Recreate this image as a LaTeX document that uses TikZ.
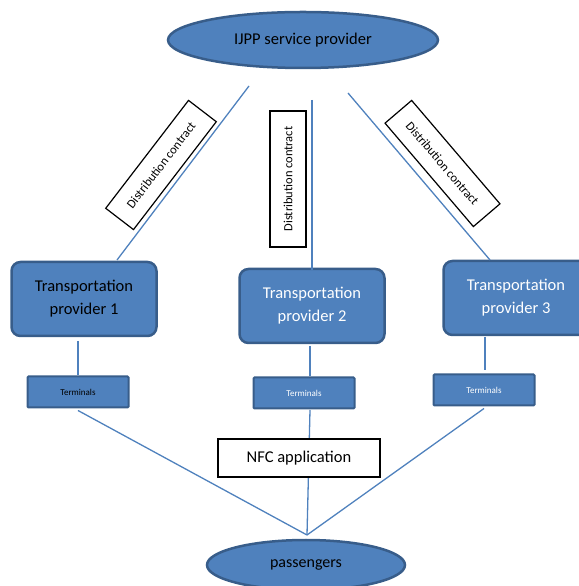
\documentclass[tikz,border=0pt]{standalone}
\usepackage{fontspec}
\setmainfont{Carlito}
\usetikzlibrary{shapes.geometric}
\definecolor{boxblue}{HTML}{4F81BD}
\definecolor{edgeblue}{HTML}{385D8A}

\begin{document}
\begin{tikzpicture}[
  x=1pt, y=1pt,
  oval/.style={ellipse, fill=boxblue, draw=edgeblue, line width=2.5pt, inner sep=0pt},
  prov/.style={rectangle, rounded corners=9pt, fill=boxblue, draw=edgeblue, line width=2.5pt,
    minimum width=145pt, minimum height=74pt, align=center, font=\fontsize{16.5}{23}\selectfont},
  term/.style={rectangle, rounded corners=1pt, fill=boxblue, draw=edgeblue, line width=2pt,
    minimum width=101pt, minimum height=31pt, font=\fontsize{9}{10}\selectfont},
  contract/.style={rectangle, draw=black, line width=1.2pt, fill=white,
    minimum width=136pt, minimum height=35pt, font=\fontsize{12.5}{14}\selectfont},
  link/.style={draw=boxblue, line width=1.3pt}
]
\useasboundingbox (0,0) rectangle (578,586);

% ends
\node [oval, minimum width=270pt, minimum height=56pt, font=\fontsize{16.5}{18}\selectfont] (ijpp) at (303,546) {IJPP service provider};
\node [oval, minimum width=198pt, minimum height=50pt, font=\fontsize{16}{18}\selectfont] (pass) at (306,21) {passengers};

% providers and terminals
\node [prov] (tp1) at (84,287) {Transportation\\provider 1};
\node [prov, text=white] (tp2) at (312,280) {Transportation\\provider 2};
\node [prov, text=white] (tp3) at (516,288) {Transportation\\provider 3};
\node [term] (term1) at (78,194) {Terminals};
\node [term, text=white] (term2) at (304,193) {Terminals};
\node [term, text=white] (term3) at (484,196) {Terminals};

% line ends
\coordinate (top1) at (249,500);
\coordinate (top2) at (312,486);
\coordinate (top3) at (348,493);
\coordinate (bot1) at (117,326);
\coordinate (bot2) at (312,316);
\coordinate (bot3) at (490,326);
\coordinate (meet) at (307,51);

\draw [link] (top1) -- (bot1);
\draw [link] (top2) -- (bot2);
\draw [link] (top3) -- (bot3);

\draw [link] (78,245) coordinate (p1) -- (78,211) coordinate (q1);
\draw [link] (310,240) coordinate (p2) -- (310,210) coordinate (q2);
\draw [link] (485,249) coordinate (p3) -- (485,216) coordinate (q3);

\draw [link] (term1.south) ++(0,-2) -- (meet);
\draw [link] (310,176) -- (meet);
\draw [link] (term3.south) ++(0,-2) -- (meet);

% contracts
\node [contract, rotate=52.5] (dc1) at (161,421) {Distribution contract};
\node [contract, rotate=90, minimum width=136pt, minimum height=36pt] (dc2) at (288,407) {Distribution contract};
\node [contract, rotate=-49.5] (dc3) at (442.5,422.5) {Distribution contract};

\node [rectangle, draw=black, line width=1.2pt, fill=white, minimum width=162pt, minimum height=38pt,
  font=\fontsize{16.5}{18}\selectfont] (nfc) at (299,128) {NFC application};
\end{tikzpicture}
\end{document}
